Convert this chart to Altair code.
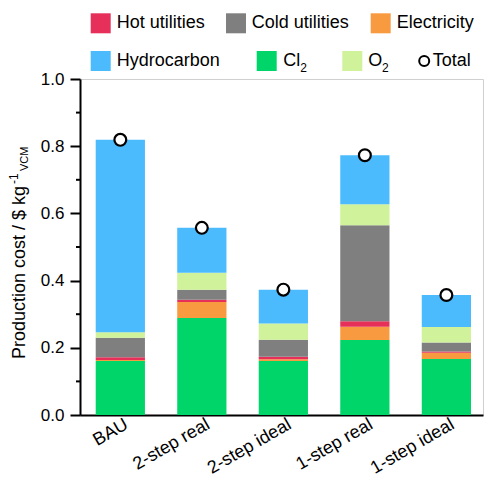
import altair as alt
import pandas as pd

# Production cost breakdown per scenario ($ per kg VCM)
scenarios = ["BAU", "2-step real", "2-step ideal", "1-step real", "1-step ideal"]
cl2 = [0.161, 0.289, 0.161, 0.223, 0.167]
electricity = [0.003, 0.047, 0.005, 0.040, 0.018]
hot_utilities = [0.008, 0.007, 0.007, 0.016, 0.004]
cold_utilities = [0.058, 0.030, 0.051, 0.286, 0.027]
o2 = [0.016, 0.050, 0.048, 0.062, 0.046]
hydrocarbon = [0.573, 0.134, 0.101, 0.146, 0.095]
totals = [0.819, 0.557, 0.373, 0.773, 0.357]

y_ticks = [0.0, 0.2, 0.4, 0.6, 0.8, 1.0]
y_minor_ticks = [0.1, 0.3, 0.5, 0.7, 0.9]

# stacking order, bottom to top
components = ["Cl2", "Electricity", "Hot utilities", "Cold utilities", "O2", "Hydrocarbon"]
series = [cl2, electricity, hot_utilities, cold_utilities, o2, hydrocarbon]
colors = {
    "Hot utilities": "#E6305A",
    "Cold utilities": "#7F7F7F",
    "Electricity": "#F89A3F",
    "Hydrocarbon": "#4CBBFE",
    "Cl2": "#00D569",
    "O2": "#CFF29A",
}

FONT = "Liberation Sans"

rows = []
for k, (comp, vals) in enumerate(zip(components, series)):
    for s, v in zip(scenarios, vals):
        rows.append({"scenario": s, "component": comp, "value": v, "order": k})
stack_df = pd.DataFrame(rows)
total_df = pd.DataFrame({"scenario": scenarios, "total": totals})
minor_df = pd.DataFrame({"v": y_minor_ticks})

x_scale = alt.Scale(domain=scenarios, paddingInner=0.396, paddingOuter=0.17, align=0.567)
y_scale = alt.Scale(domain=[0, 1], nice=False)

x_axis = alt.Axis(
    labelAngle=330,
    labelFontSize=18,
    labelFont=FONT,
    labelColor="black",
    ticks=False,
    labelPadding=0,
    labelOffset=2,
    domainColor="black",
    domainWidth=2,
)
y_axis = alt.Axis(
    values=y_ticks,
    format=".1f",
    labelFontSize=17,
    labelFont=FONT,
    labelColor="black",
    labelPadding=6,
    tickSize=10,
    tickWidth=2,
    tickColor="black",
    domainColor="black",
    domainWidth=2,
    grid=False,
)

bars = alt.Chart(stack_df).mark_bar().encode(
    x=alt.X("scenario:N", scale=x_scale, sort=scenarios, title=None, axis=x_axis),
    y=alt.Y("value:Q", stack="zero", scale=y_scale, title=None, axis=y_axis),
    color=alt.Color(
        "component:N",
        scale=alt.Scale(domain=list(colors.keys()), range=list(colors.values())),
        legend=None,
    ),
    order=alt.Order("order:Q", sort="ascending"),
)

points = alt.Chart(total_df).mark_point(
    shape="circle", filled=True, fill="white", stroke="black", strokeWidth=2.2, size=140, opacity=1
).encode(
    x=alt.X("scenario:N", scale=x_scale, sort=scenarios, title=None, axis=x_axis),
    y=alt.Y("total:Q", scale=y_scale, title=None, axis=y_axis),
)

# minor ticks between the labelled ones
minor = alt.Chart(minor_df).mark_rule(color="black", strokeWidth=2).encode(
    y=alt.Y("v:Q", scale=y_scale, title=None, axis=y_axis),
    x=alt.value(-4),
    x2=alt.value(0),
)

one = alt.Data(values=[{"k": 1}])

def text_at(text, x, y, size, angle=0, baseline="middle"):
    return alt.Chart(one).mark_text(
        text=text, align="left", baseline=baseline, angle=angle,
        fontSize=size, font=FONT, color="black",
    ).encode(x=alt.value(x), y=alt.value(y))

# y-axis title with superscript and subscript
title_layers = [
    text_at("Production cost / $ kg", -55, 280, 18, angle=270, baseline="alphabetic"),
    text_at("-1", -62, 105, 12, angle=270, baseline="alphabetic"),
    text_at("VCM", -52, 92, 11, angle=270, baseline="alphabetic"),
]

# legend above the plot
legend_layers = []
swatches = [
    ("Hot utilities", 20.7, -55.7),
    ("Cold utilities", 156, -55.7),
    ("Electricity", 300.7, -55.7),
    ("Hydrocarbon", 20.7, -18),
    ("Cl2", 186.7, -18),
    ("O2", 272.3, -18),
]
for name, sx, sy in swatches:
    legend_layers.append(
        alt.Chart(one).mark_square(size=400, opacity=1, color=colors[name]).encode(
            x=alt.value(sx), y=alt.value(sy)
        )
    )
legend_layers += [
    text_at("Hot utilities", 36.7, -55.7, 18),
    text_at("Cold utilities", 171.7, -55.7, 18),
    text_at("Electricity", 316.7, -55.7, 18),
    text_at("Hydrocarbon", 36.7, -18, 18),
    text_at("Cl", 203.3, -18, 18),
    text_at("2", 220.3, -11.5, 12),
    text_at("O", 288.3, -18, 18),
    text_at("2", 302, -11.5, 12),
    text_at("Total", 352.7, -18, 18),
    alt.Chart(one).mark_point(
        shape="circle", filled=True, fill="white", stroke="black", strokeWidth=2, size=100, opacity=1
    ).encode(x=alt.value(344.2), y=alt.value(-18)),
]

chart = alt.layer(bars, minor, points, *title_layers, *legend_layers).properties(
    width=403,
    height=336,
    padding={"left": 80, "top": 79, "right": 3, "bottom": 62},
    autosize=alt.AutoSizeParams(type="none"),
).configure_view(stroke="#d0d0d0", strokeWidth=1)

chart.save("out.html", embed_options={"renderer": "svg", "actions": False})
